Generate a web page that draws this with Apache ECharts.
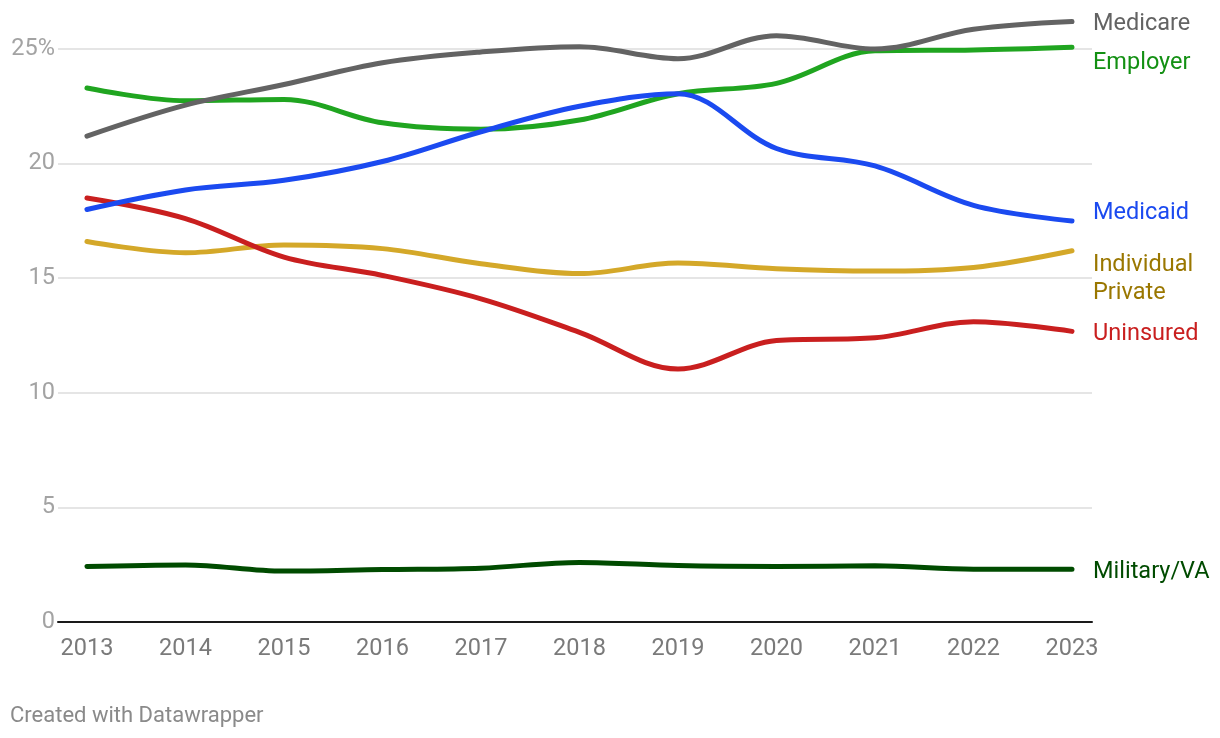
<!DOCTYPE html>
<html>
<head>
<meta charset="utf-8">
<script src="https://cdn.jsdelivr.net/npm/echarts@6/dist/echarts.min.js"></script>
<style>
html,body{margin:0;padding:0;background:#fff;}
#chart{width:1220px;height:738px;}
#foot{position:absolute;left:10px;top:702px;font-family:Roboto,sans-serif;font-size:22px;color:#8a8a8a;}
</style>
</head>
<body>
<div id="chart"></div>
<div id="foot">Created with Datawrapper</div>
<script>
const years = [2013,2014,2015,2016,2017,2018,2019,2020,2021,2022,2023];
const medicare   = [21.2,22.55,23.45,24.4,24.87,25.1,24.58,25.58,25.0,25.86,26.2];
const employer   = [23.3,22.74,22.8,21.78,21.5,21.9,23.05,23.5,24.92,24.96,25.08];
const medicaid   = [18.0,18.85,19.27,20.09,21.39,22.5,23.05,20.66,19.9,18.18,17.5];
const indPrivate = [16.6,16.11,16.45,16.29,15.63,15.2,15.66,15.41,15.31,15.47,16.2];
const uninsured  = [18.5,17.6,15.92,15.12,14.1,12.64,11.04,12.28,12.4,13.1,12.68];
const military   = [2.42,2.49,2.22,2.29,2.35,2.6,2.46,2.42,2.45,2.3,2.3];
const yTicks = [0,5,10,15,20,25];

const chart = echarts.init(document.getElementById('chart'));
function mk(name, data, color, labelColor, offY, z){
  return {
    name: name, type:'line', smooth:0.35, symbol:'none', z:z, clip:false,
    data: years.map((y,i)=>[y,data[i]]),
    lineStyle:{color:color,width:5,cap:'round'},
    endLabel:{show:true, formatter:name, color:labelColor, fontFamily:'Roboto', fontSize:23.5,
      distance:21, offset:[0,offY+3], lineHeight:28},
    emphasis:{disabled:true}
  };
}
chart.setOption({
  animation:false,
  grid:{left:58, right:128, top:49, bottom:116},
  xAxis:{type:'value', min:2012.706, max:2023.203,
    axisLine:{show:true, lineStyle:{color:'#1a1a1a', width:2}},
    axisTick:{show:false},
    splitLine:{show:false},
    axisLabel:{customValues:years, color:'#7a7a7a', fontFamily:'Roboto', fontSize:23.5, margin:15,
      formatter:v=>String(v)}
  },
  yAxis:{type:'value', min:0, max:25, interval:5,
    axisLine:{show:false}, axisTick:{show:false},
    splitLine:{lineStyle:{color:'#e5e5e5', width:2}},
    axisLabel:{color:'#a3a3a3', fontFamily:'Roboto', fontSize:23.5, margin:3,
      formatter:v=> v===25 ? '25%' : String(v)}
  },
  series:[
    mk('Military/VA', military, '#004b00', '#004b00', 0, 1),
    mk('Individual\nPrivate', indPrivate, '#d4a829', '#9a7700', 25, 2),
    mk('Uninsured', uninsured, '#c91f1f', '#c91f1f', 0, 3),
    mk('Employer', employer, '#20a520', '#139013', 13, 4),
    mk('Medicaid', medicaid, '#1b4af0', '#1b4af0', -11, 5),
    mk('Medicare', medicare, '#636363', '#636363', 0, 6)
  ]
});
</script>
</body>
</html>
